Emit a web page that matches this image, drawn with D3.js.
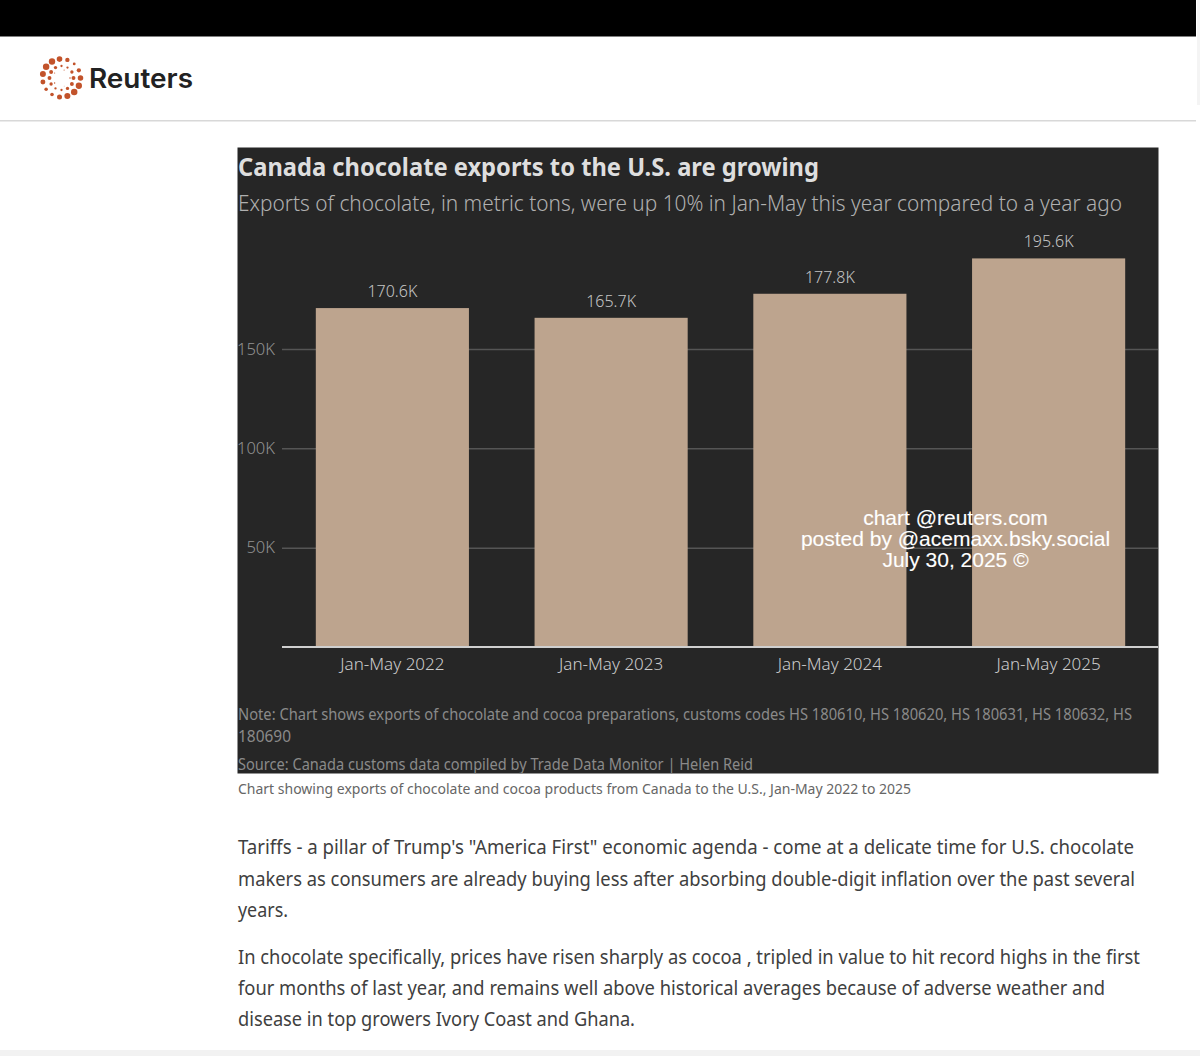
<!DOCTYPE html>
<html>
<head>
<meta charset="utf-8">
<script src="https://cdn.jsdelivr.net/npm/d3@7"></script>
<style>
  html, body { margin: 0; padding: 0; background: #fff; overflow: hidden; }
  text { font-family: "Noto Sans", sans-serif; }
</style>
</head>
<body>
<div id="viz"></div>
<script>
var categories = ["Jan-May 2022", "Jan-May 2023", "Jan-May 2024", "Jan-May 2025"];
var values = [170.6, 165.7, 177.8, 195.6];
var valueLabels = ["170.6K", "165.7K", "177.8K", "195.6K"];
var yTicks = [50, 100, 150];

var title = "Canada chocolate exports to the U.S. are growing";
var subtitle = "Exports of chocolate, in metric tons, were up 10% in Jan-May this year compared to a year ago";
var noteLines = [
  "Note: Chart shows exports of chocolate and cocoa preparations, customs codes HS 180610, HS 180620, HS 180631, HS 180632, HS",
  "180690"
];
var source = "Source: Canada customs data compiled by Trade Data Monitor | Helen Reid";
var caption = "Chart showing exports of chocolate and cocoa products from Canada to the U.S., Jan-May 2022 to 2025";
var watermark = ["chart @reuters.com", "posted by @acemaxx.bsky.social", "July 30, 2025 ©"];
var para1 = [
  "Tariffs - a pillar of Trump's \"America First\" economic agenda - come at a delicate time for U.S. chocolate",
  "makers as consumers are already buying less after absorbing double-digit inflation over the past several",
  "years."
];
var para2 = [
  "In chocolate specifically, prices have risen sharply as cocoa , tripled in value to hit record highs in the first",
  "four months of last year, and remains well above historical averages because of adverse weather and",
  "disease in top growers Ivory Coast and Ghana."
];

var svg = d3.select("#viz").append("svg").attr("width", 1200).attr("height", 1056)
    .style("display", "block");

// the reference face is narrower than Noto Sans, so squeeze each line to its measured width
function left(px, py, t, size, color, width) {
  return svg.append("text").attr("x", px).attr("y", py).text(t)
      .attr("font-size", size).attr("fill", color)
      .attr("textLength", width).attr("lengthAdjust", "spacingAndGlyphs");
}

// page chrome
svg.append("rect").attr("width", 1196).attr("height", 36.5).attr("fill", "#000");
svg.append("rect").attr("x", 1197).attr("y", 0).attr("width", 3).attr("height", 105).attr("fill", "#f4f4f4");
svg.append("rect").attr("x", 0).attr("y", 120).attr("width", 1196).attr("height", 1.5).attr("fill", "#d8d8d8");
svg.append("rect").attr("x", 0).attr("y", 1050).attr("width", 1200).attr("height", 6).attr("fill", "#f2f2f2");

// logo, rings of dots
var logo = svg.append("g").attr("transform", "translate(61.5,78)");
[[19, 15, 3.1], [12, 12, 1.9], [8.5, 5, 0.7]].forEach(function(ring, r) {
  d3.range(ring[1]).forEach(function(i) {
    var a = i / ring[1] * 2 * Math.PI;
    // dots swell towards upper right and lower left
    var grow = 0.45 + 0.6 * Math.abs(Math.sin(a + Math.PI / 2 - 0.75 + r * 0.5));
    logo.append("circle")
        .attr("cx", ring[0] * Math.cos(a)).attr("cy", ring[0] * Math.sin(a))
        .attr("r", ring[2] * grow).attr("fill", "#c2532b");
  });
});
left(89, 87.5, "Reuters", 27, "#222", 104).attr("font-weight", 600).style("font-family", "Inter, sans-serif");

// chart panel
svg.append("rect").attr("x", 237.5).attr("y", 147.5).attr("width", 921).attr("height", 626).attr("fill", "#262626");

left(238, 176, title, 25, "#dedede", 581).attr("font-weight", 700);
left(238, 211, subtitle, 21.5, "#b0b0b0", 884).attr("font-weight", 300);

var x = d3.scaleBand().domain(categories).range([283, 1158]).paddingInner(0.3).paddingOuter(0.15);
var y = d3.scaleLinear().domain([0, 150]).range([647, 349]);

// gridlines and y labels
var yAxis = svg.append("g").attr("transform", "translate(282,0)")
    .call(d3.axisLeft(y).tickValues(yTicks).tickSize(-876).tickPadding(7).tickFormat(function(d) { return d + "K"; }));
yAxis.select(".domain").remove();
yAxis.selectAll("line").attr("stroke", "#555").attr("stroke-width", 1.5);
yAxis.selectAll("text").attr("font-size", 16.5).attr("font-weight", 300).attr("fill", "#929292").attr("font-family", '"Noto Sans", sans-serif');

svg.selectAll("rect.bar").data(values).enter().append("rect").attr("class", "bar")
    .attr("x", function(d, i) { return x(categories[i]); })
    .attr("y", function(d) { return y(d); })
    .attr("width", x.bandwidth())
    .attr("height", function(d) { return y(0) - y(d); })
    .attr("fill", "#bda48e");

svg.selectAll("text.val").data(values).enter().append("text").attr("class", "val")
    .attr("x", function(d, i) { return x(categories[i]) + x.bandwidth() / 2; })
    .attr("y", function(d) { return y(d) - 11; })
    .attr("text-anchor", "middle").attr("font-size", 16).attr("font-weight", 300).attr("fill", "#c4c4c4")
    .text(function(d, i) { return valueLabels[i]; });

// x axis
var xAxis = svg.append("g").attr("transform", "translate(0,647)")
    .call(d3.axisBottom(x).tickSize(0).tickPadding(11));
xAxis.select(".domain").attr("stroke", "#cfcfcf").attr("stroke-width", 2).attr("d", "M282,0H1158");
xAxis.selectAll("text").attr("font-size", 17).attr("font-weight", 300).attr("fill", "#cccccc").attr("font-family", '"Noto Sans", sans-serif');

// note, source, caption
var noteWidths = [894, 53];
noteLines.forEach(function(t, i) {
  left(238, 720 + i * 22, t, 15.5, "#8a8a8a", noteWidths[i]);
});
left(238, 770, source, 15.5, "#8a8a8a", 515);
left(238, 794, caption, 14.5, "#666", 673);

// watermark
watermark.forEach(function(t, i) {
  svg.append("text").attr("x", 955.5).attr("y", 525 + i * 21).text(t)
      .attr("text-anchor", "middle").attr("font-size", 21).attr("fill", "#fff")
      .attr("stroke", "#fff").attr("stroke-width", 0.12)
      .style("font-family", '"Liberation Sans", sans-serif');
});

// article text
var para1Widths = [896, 897, 50];
var para2Widths = [902, 867, 397];
para1.forEach(function(t, i) {
  left(238, 854 + i * 31.5, t, 19.5, "#404040", para1Widths[i]);
});
para2.forEach(function(t, i) {
  left(238, 963.5 + i * 31, t, 19.5, "#404040", para2Widths[i]);
});
</script>
</body>
</html>
